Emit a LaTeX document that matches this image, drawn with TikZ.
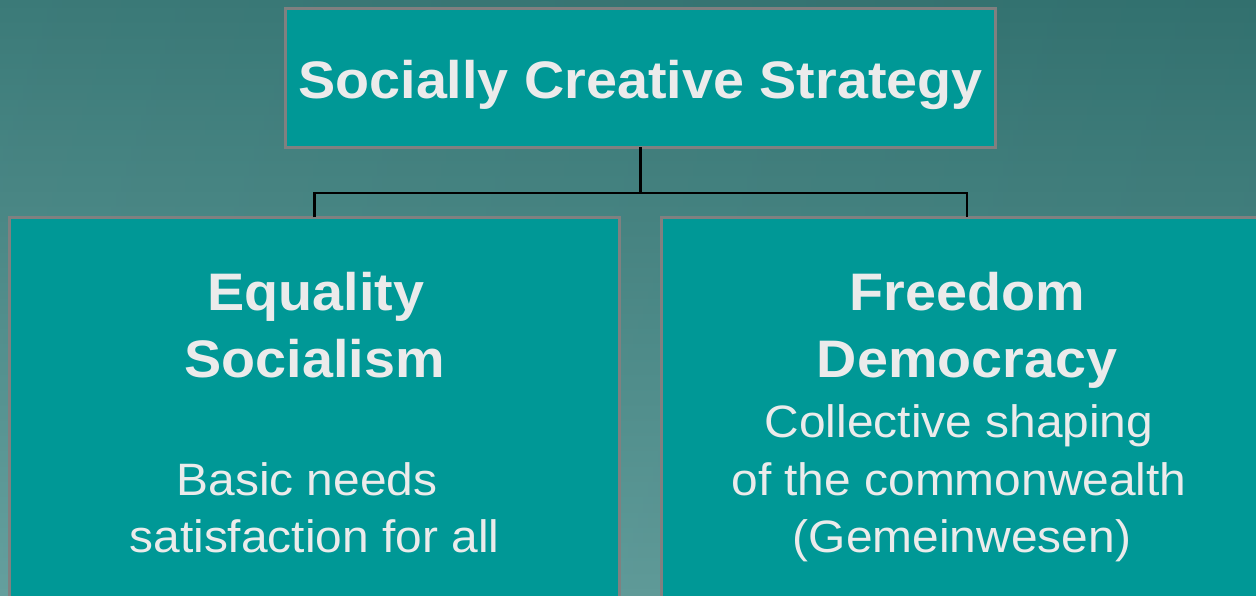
\documentclass[tikz,border=0pt]{standalone}
\usepackage{fontspec}
\setmainfont{Liberation Sans}[FakeStretch=1.055]
\definecolor{bgtop}{HTML}{347573}
\definecolor{bgbottom}{HTML}{5E9C9A}
\definecolor{boxfill}{HTML}{009896}
\definecolor{boxline}{HTML}{808080}
\definecolor{textc}{HTML}{EBEBEB}
\tikzset{
  panel/.style={draw=boxline, fill=boxfill, line width=3pt, inner sep=0pt, outer sep=0pt},
  headline/.style={anchor=base, text=textc, inner sep=0pt, font=\fontsize{52.8}{60}\selectfont\bfseries},
  bodyline/.style={anchor=base, text=textc, inner sep=0pt, font=\fontsize{45.4}{52}\selectfont},
  link/.style={draw=black, line width=2.5pt}
}
\begin{document}
\begin{tikzpicture}[x=1pt, y=-1pt]
  \useasboundingbox (0,0) rectangle (1256,596);
  \clip (0,0) rectangle (1256,596);
  % backdrop
  \shade[top color=bgtop, bottom color=bgbottom] (0,0) rectangle (1256,596);
  \shade[left color=white, right color=black, fill opacity=0.04] (0,0) rectangle (1256,596);

  % boxes
  \node[panel, minimum width=710pt, minimum height=139pt] (top) at (640.5,78) {};
  \node[panel, anchor=north, minimum width=610pt, minimum height=420pt] (left) at (314.5,217.5) {};
  \node[panel, anchor=north, minimum width=611pt, minimum height=420pt] (right) at (967,217.5) {};

  % connectors
  \coordinate (bus) at (640.5,193);
  \draw[link] (top.south) -- (bus);
  \draw[link] (left.north) |- (bus) -| (right.north);

  % texts
  \node[headline] (ttl) at (640.5,99) {Socially Creative Strategy};

  \node[headline] (eq) at (316,310) {Equality};
  \node[headline] (soc) at (314.5,377) {Socialism};
  \node[bodyline] (bn) at (307,495) {Basic needs};
  \node[bodyline] (sat) at (314.5,552) {satisfaction for all};

  \node[headline] (fr) at (967,310) {Freedom};
  \node[headline] (dem) at (967,377) {Democracy};
  \node[bodyline] (col) at (959,437) {Collective shaping};
  \node[bodyline] (cw) at (959,495) {of the commonwealth};
  \node[bodyline] (gem) at (962,552) {(Gemeinwesen)};
\end{tikzpicture}
\end{document}
